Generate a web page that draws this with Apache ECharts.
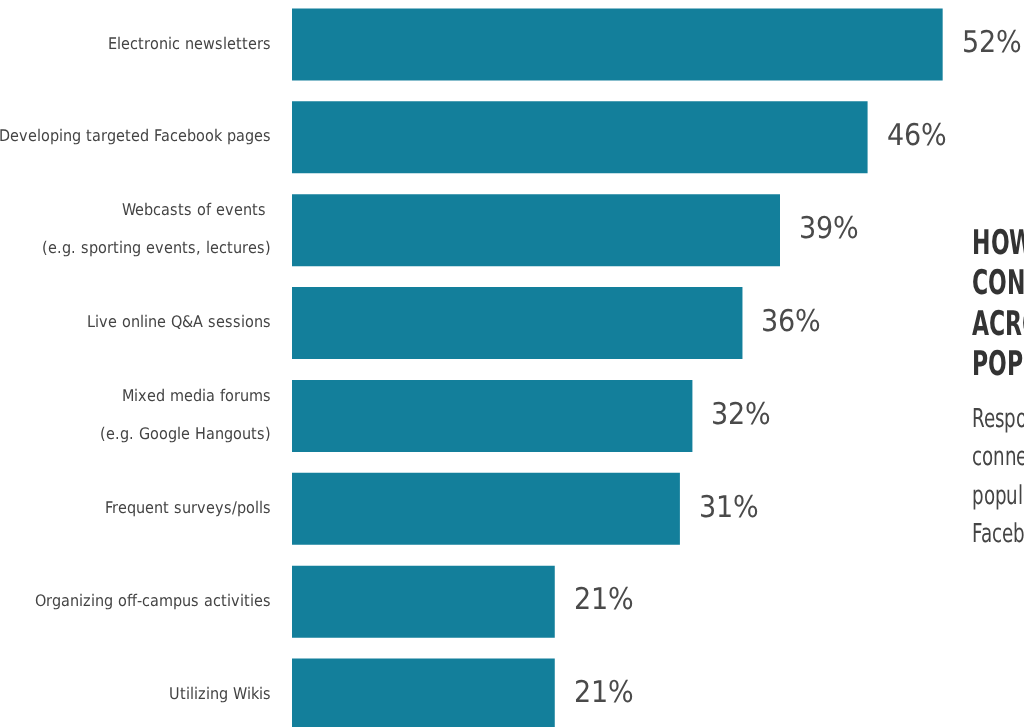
<!DOCTYPE html>
<html>
<head>
<meta charset="utf-8">
<script src="https://cdn.jsdelivr.net/npm/echarts@6/dist/echarts.min.js"></script>
<style>
  html, body { margin: 0; padding: 0; background: #fff; }
  #chart { width: 1024px; height: 727px; }
  @font-face {
    font-family: 'Cond';
    src: local('Liberation Sans Narrow'), local('LiberationSansNarrow-Regular'),
         local('DejaVu Sans Condensed'), local('DejaVuSansCondensed');
  }
  @font-face {
    font-family: 'CondB';
    src: local('Liberation Sans Narrow Bold'), local('LiberationSansNarrow-Bold'),
         local('DejaVu Sans Condensed Bold'), local('DejaVuSansCondensed-Bold'), local('DejaVuSans-BoldCondensed');
  }
</style>
</head>
<body>
<div id="chart"></div>
<script>
const categories = [
    'Electronic newsletters',
    'Developing targeted Facebook pages',
    'Webcasts of events \n(e.g. sporting events, lectures)',
    'Live online Q&A sessions',
    'Mixed media forums\n(e.g. Google Hangouts)',
    'Frequent surveys/polls',
    'Organizing off-campus activities',
    'Utilizing Wikis'
];
const values = [52, 46, 39, 36, 32, 31, 21, 21];

const headingLines = ['HOW ALUMNI WANT TO', 'CONNECT', 'ACROSS', 'POPULATIONS'];
const bodyLines = ['Respondents said', 'connecting via', 'popular channels like', 'Facebook pages'];

const FONT = 'Cond, "Noto Sans", sans-serif';
const FONT_B = 'CondB, Cond, "Noto Sans", sans-serif';

// pick a font size so a sample string gets roughly the target width
function fitSize(sample, target, family, weight) {
    var ctx = document.createElement('canvas').getContext('2d');
    ctx.font = (weight || 'normal') + ' 100px ' + family;
    return Math.round(target / ctx.measureText(sample).width * 100 * 10) / 10;
}

function draw() {
    var catSize = Math.min(22, fitSize('Developing targeted Facebook pages', 263, FONT));
    var valSize = Math.min(40, fitSize('52%', 60, FONT));

    var chartDom = document.getElementById('chart');
    var myChart = echarts.init(chartDom);

    // side text is squeezed horizontally to look like the condensed face of the original
    var graphics = [];
    headingLines.forEach(function (t, i) {
        graphics.push({
            type: 'text',
            x: 972,
            y: 245 + i * 40.5,
            scaleX: 0.72,
            style: { text: t, font: 'bold 34px ' + FONT_B, fill: '#333333', textVerticalAlign: 'middle' }
        });
    });
    bodyLines.forEach(function (t, i) {
        graphics.push({
            type: 'text',
            x: 972,
            y: 420 + i * 38.5,
            scaleX: 0.78,
            style: { text: t, font: '26px ' + FONT, fill: '#444444', textVerticalAlign: 'middle' }
        });
    });

    var option = {
        animation: false,
        grid: { left: 292, right: 0, top: -2, bottom: -14, outerBoundsMode: 'none', containLabel: false },
        xAxis: {
            type: 'value',
            min: 0,
            max: 58.5,
            show: false
        },
        yAxis: {
            type: 'category',
            data: categories,
            inverse: true,
            axisLine: { show: false },
            axisTick: { show: false },
            axisLabel: {
                margin: 21,
                fontFamily: FONT,
                fontSize: catSize,
                color: '#444444',
                lineHeight: 38,
                align: 'right'
            }
        },
        series: [
            {
                type: 'bar',
                data: values,
                barCategoryGap: '22.6%',
                itemStyle: { color: '#137f9b' },
                label: {
                    show: true,
                    position: 'right',
                    distance: 19,
                    formatter: '{c}%',
                    fontFamily: FONT,
                    fontSize: valSize,
                    color: '#4a4a4a'
                }
            }
        ],
        graphic: graphics
    };

    option && myChart.setOption(option);
}

Promise.all([
    document.fonts.load('20px Cond'),
    document.fonts.load('bold 20px CondB')
]).then(draw, draw);
</script>
</body>
</html>
